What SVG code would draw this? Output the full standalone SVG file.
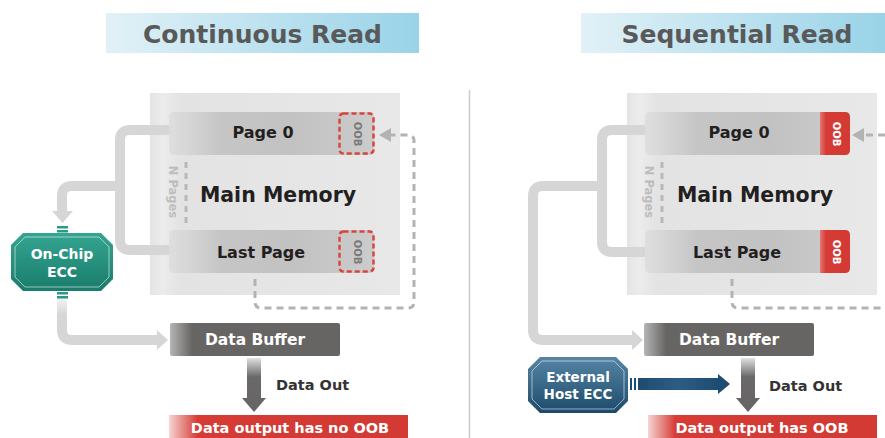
<svg xmlns="http://www.w3.org/2000/svg" width="885" height="438" viewBox="0 0 885 438">
<defs>
<linearGradient id="gTitle" x1="0" y1="0" x2="1" y2="0"><stop offset="0" stop-color="#e2f1f7"/><stop offset="1" stop-color="#99d3e8"/></linearGradient>
<linearGradient id="gMem" x1="0" y1="0" x2="1" y2="0"><stop offset="0" stop-color="#e4e4e4"/><stop offset="0.05" stop-color="#ececec"/><stop offset="0.12" stop-color="#e3e3e3"/><stop offset="1" stop-color="#e8e8e8"/></linearGradient>
<linearGradient id="gPage" x1="0" y1="0" x2="1" y2="0"><stop offset="0" stop-color="#dedede"/><stop offset="0.12" stop-color="#d2d2d2"/><stop offset="0.25" stop-color="#c3c3c3"/><stop offset="0.6" stop-color="#bfbfbf"/><stop offset="1" stop-color="#c9c9c9"/></linearGradient>
<linearGradient id="gBuf" x1="0" y1="0" x2="1" y2="0"><stop offset="0" stop-color="#b5b5b5"/><stop offset="0.13" stop-color="#676564"/><stop offset="1" stop-color="#676564"/></linearGradient>
<linearGradient id="gRed" x1="0" y1="0" x2="1" y2="0"><stop offset="0" stop-color="#f6d4d2"/><stop offset="0.12" stop-color="#d63b35"/><stop offset="1" stop-color="#d33a34"/></linearGradient>
<linearGradient id="gOob" x1="0" y1="0" x2="1" y2="0"><stop offset="0" stop-color="#e47773"/><stop offset="0.2" stop-color="#d63b35"/><stop offset="1" stop-color="#d33a34"/></linearGradient>
<linearGradient id="gOut" x1="0" y1="0" x2="0" y2="1"><stop offset="0" stop-color="#e0e0e0"/><stop offset="0.35" stop-color="#6a6868"/><stop offset="1" stop-color="#666464"/></linearGradient>
<linearGradient id="gTeal" x1="0" y1="0" x2="0" y2="1"><stop offset="0" stop-color="#34a591"/><stop offset="1" stop-color="#1a7c6b"/></linearGradient>
<linearGradient id="gBlue" x1="0" y1="0" x2="0" y2="1"><stop offset="0" stop-color="#5585a5"/><stop offset="1" stop-color="#1d4a6b"/></linearGradient>
<linearGradient id="gBlueBar" x1="0" y1="0" x2="1" y2="0"><stop offset="0" stop-color="#1d4c72"/><stop offset="0.5" stop-color="#2b5d85"/><stop offset="1" stop-color="#1d4c72"/></linearGradient>
<linearGradient id="gFade" x1="0" y1="0" x2="0" y2="1"><stop offset="0" stop-color="#f4f4f4"/><stop offset="0.4" stop-color="#d6d6d6"/></linearGradient>
</defs>
<style>
text{font-family:"DejaVu Sans","Liberation Sans",sans-serif;font-weight:bold;text-anchor:middle;dominant-baseline:central}
.title{font-size:25px;fill:#595959;dominant-baseline:auto}
.pg{font-size:16px;fill:#231f1f}
.mm{font-size:20.5px;fill:#231f1f}
.np{font-size:11.5px;fill:#bdbdbd}
.oobd{font-size:10px;fill:#7a7a7a}
.oobr{font-size:10px;fill:#ffffff}
.wt{fill:#ffffff}
.buf{font-size:15.5px}
.dout{font-size:14.5px;fill:#333333;text-anchor:start}
.res{font-size:14.5px}
.ecc{font-size:14px}
.ext{font-size:13.5px}
.thick{fill:none;stroke:#d6d6d6;stroke-width:10}
.dash{fill:none;stroke:#b3b3b3;stroke-width:3;stroke-dasharray:7 5}
.ndash{fill:none;stroke:#b8b8b8;stroke-width:3;stroke-dasharray:6 5}
.ahg{fill:#d6d6d6}
.ahd{fill:#b3b3b3}
</style>
<rect width="885" height="438" fill="#ffffff"/>
<line x1="469.5" y1="90" x2="469.5" y2="438" stroke="#cccccc" stroke-width="1.5"/>

<g id="title-continuous">
<rect x="106" y="13" width="313" height="40" fill="url(#gTitle)"/>
<text class="title" x="262.5" y="43">Continuous Read</text>
</g>
<g id="title-sequential">
<rect x="581" y="13" width="304" height="40" fill="url(#gTitle)"/>
<text class="title" x="737" y="43">Sequential Read</text>
</g>

<g id="memory-left">
<rect x="150" y="93" width="250" height="202" fill="url(#gMem)"/>
<text class="mm" x="278" y="195">Main Memory</text>
<line class="ndash" x1="186" y1="162" x2="186" y2="226"/>
<text class="np" transform="translate(173,192) rotate(90)">N Pages</text>
</g>
<g id="memory-right">
<rect x="627" y="93" width="250" height="202" fill="url(#gMem)"/>
<text class="mm" x="755" y="195">Main Memory</text>
<line class="ndash" x1="662" y1="162" x2="662" y2="226"/>
<text class="np" transform="translate(649,192) rotate(90)">N Pages</text>
</g>

<g id="connectors">
<path class="thick" d="M172 130 H130 Q120 130 120 140 V240 Q120 250 130 250 H172"/>
<path class="thick" d="M120 186 H72 Q62 186 62 196 V213"/>
<polygon class="ahg" points="52,211 73,211 62.5,223"/>
<path d="M62 298 V330 Q62 340 72 340 H158" fill="none" stroke="url(#gFade)" stroke-width="10"/>
<polygon class="ahg" points="157,330 168,340 157,350"/>
<path class="dash" d="M255 279 V302 Q255 308 261 308 H408 Q414 308 414 302 V141 Q414 135 408 135 H391"/>
<polygon class="ahd" points="391,128 379,135 391,142"/>

<path class="thick" d="M648 130 H612 Q602 130 602 140 V242 Q602 252 612 252 H648"/>
<path class="thick" d="M602 186 H543 Q533 186 533 196 V330 Q533 340 543 340 H633"/>
<polygon class="ahg" points="632,330 643,340 632,350"/>
<path class="dash" d="M732 279 V302 Q732 308 738 308 H885"/>
<path class="dash" d="M885 135 H864"/>
<polygon class="ahd" points="864,128 852,135 864,142"/>

<polygon points="247,358 261,358 261,398 266,398 254,412 242,398 247,398" fill="url(#gOut)"/>
<polygon points="741,358 755,358 755,398 760,398 748,412 736,398 741,398" fill="url(#gOut)"/>
<rect x="630" y="378" width="2" height="12" fill="#1d4c72"/>
<rect x="634" y="378" width="2" height="12" fill="#1d4c72"/>
<rect x="638" y="378" width="81" height="12" fill="url(#gBlueBar)"/>
<polygon points="718,374 730,384 718,394" fill="#1d4c72"/>
</g>

<g id="page0-left">
<rect x="169" y="112" width="205" height="43" rx="5" fill="url(#gPage)" fill-opacity="0.92"/>
<text class="pg" x="263" y="132">Page 0</text>
<rect x="339.5" y="113.5" width="34" height="40" rx="4" fill="none" stroke="#d9453e" stroke-width="2.5" stroke-dasharray="5 3"/>
<text class="oobd" transform="translate(357,134) rotate(90)">OOB</text>
</g>
<g id="lastpage-left">
<rect x="169" y="230" width="205" height="43" rx="5" fill="url(#gPage)" fill-opacity="0.92"/>
<text class="pg" x="261" y="252">Last Page</text>
<rect x="339.5" y="231.5" width="34" height="40" rx="4" fill="none" stroke="#d9453e" stroke-width="2.5" stroke-dasharray="5 3"/>
<text class="oobd" transform="translate(357,252) rotate(90)">OOB</text>
</g>
<g id="ecc-left">
<rect x="57" y="226" width="11" height="2.5" fill="#2a9a87"/>
<rect x="57" y="230" width="11" height="2.5" fill="#2a9a87"/>
<rect x="57" y="292" width="11" height="2.5" fill="#2a9a87"/>
<rect x="57" y="296" width="11" height="2.5" fill="#2a9a87"/>
<polygon points="23,233 101,233 113,245 113,279 101,291 23,291 11,279 11,245" fill="url(#gTeal)"/>
<polygon points="25,237 99,237 109,247 109,277 99,287 25,287 15,277 15,247" fill="none" stroke="#ffffff" stroke-opacity="0.55" stroke-width="1"/>
<text class="ecc wt" x="62" y="254">On-Chip</text>
<text class="ecc wt" x="62" y="272">ECC</text>
</g>
<g id="buffer-left">
<rect x="170" y="323" width="170" height="33" rx="2" fill="url(#gBuf)"/>
<text class="buf wt" x="255" y="340">Data Buffer</text>
</g>
<text class="dout" x="276" y="385">Data Out</text>
<g id="output-left">
<rect x="169" y="415" width="239" height="23" fill="url(#gRed)"/>
<text class="res wt" x="290" y="428">Data output has no OOB</text>
</g>

<g id="page0-right">
<rect x="645" y="112" width="205" height="43" rx="5" fill="url(#gPage)" fill-opacity="0.92"/>
<text class="pg" x="739" y="132">Page 0</text>
<path d="M820 112 H845 Q850 112 850 117 V150 Q850 155 845 155 H820 Z" fill="url(#gOob)"/>
<text class="oobr" transform="translate(836,134) rotate(90)">OOB</text>
</g>
<g id="lastpage-right">
<rect x="645" y="230" width="205" height="43" rx="5" fill="url(#gPage)" fill-opacity="0.92"/>
<text class="pg" x="737" y="252">Last Page</text>
<path d="M820 230 H845 Q850 230 850 235 V268 Q850 273 845 273 H820 Z" fill="url(#gOob)"/>
<text class="oobr" transform="translate(836,252) rotate(90)">OOB</text>
</g>
<g id="buffer-right">
<rect x="644" y="323" width="170" height="33" rx="2" fill="url(#gBuf)"/>
<text class="buf wt" x="729" y="340">Data Buffer</text>
</g>
<g id="ecc-external">
<polygon points="540,357 616,357 628,369 628,401 616,413 540,413 528,401 528,369" fill="url(#gBlue)"/>
<polygon points="542,361 614,361 624,371 624,399 614,409 542,409 532,399 532,371" fill="none" stroke="#ffffff" stroke-opacity="0.55" stroke-width="1"/>
<text class="ext wt" x="578" y="377">External</text>
<text class="ext wt" x="578" y="394">Host ECC</text>
</g>
<text class="dout" x="769" y="386">Data Out</text>
<g id="output-right">
<rect x="648" y="415" width="229" height="23" fill="url(#gRed)"/>
<text class="res wt" x="762" y="428">Data output has OOB</text>
</g>
</svg>
